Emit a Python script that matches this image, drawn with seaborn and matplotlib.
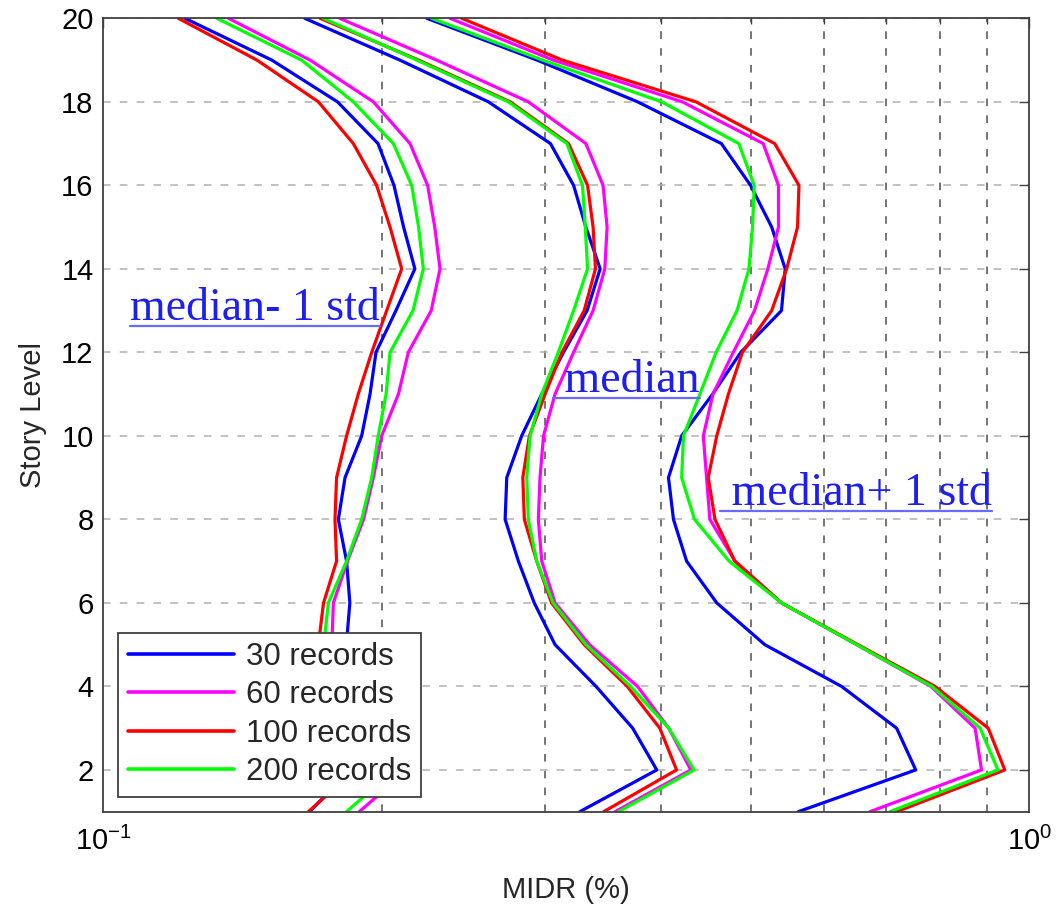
import matplotlib
matplotlib.use("Agg")
import matplotlib.pyplot as plt
import numpy as np
import pandas as pd
import seaborn as sns
from matplotlib.lines import Line2D
from matplotlib.transforms import IdentityTransform
from matplotlib.ticker import FixedLocator, NullFormatter

# ── Data: MIDR (%) per story level 1..20 ──────────────────────────────
stories = list(range(1, 21))
record_sets = ["30 records", "60 records", "100 records", "200 records"]
colors = ["#0000ff", "#ff00ff", "#ff0000", "#00ff00"]
groups = ["median- 1 std", "median", "median+ 1 std"]

minus_30 = [0.167, 0.185, 0.184, 0.183, 0.183, 0.1846, 0.1831, 0.1794, 0.1824, 0.1901,
            0.1941, 0.197, 0.207, 0.217, 0.211, 0.206, 0.198, 0.179, 0.152, 0.1225]
minus_60 = [0.189, 0.213, 0.198, 0.186, 0.1765, 0.1772, 0.1835, 0.191, 0.1957, 0.1998,
            0.2083, 0.2135, 0.226, 0.231, 0.228, 0.224, 0.2144, 0.1957, 0.1672, 0.1365]
minus_100 = [0.1665, 0.187, 0.181, 0.175, 0.1707, 0.1729, 0.1786, 0.1779, 0.1786, 0.1831,
             0.1885, 0.1949, 0.2023, 0.210, 0.204, 0.1973, 0.1862, 0.1707, 0.1465, 0.1205]
minus_200 = [0.1831, 0.206, 0.193, 0.182, 0.173, 0.175, 0.1831, 0.1901, 0.1949, 0.1981,
             0.2020, 0.204, 0.216, 0.2216, 0.219, 0.2153, 0.2057, 0.1862, 0.1637, 0.1326]

median_30 = [0.327, 0.396, 0.373, 0.3405, 0.3075, 0.292, 0.2807, 0.2716, 0.2727, 0.2830,
             0.2975, 0.314, 0.333, 0.344, 0.332, 0.322, 0.304, 0.2605, 0.209, 0.165]
median_60 = [0.357, 0.431, 0.408, 0.3775, 0.335, 0.3075, 0.2975, 0.295, 0.2962, 0.2988,
             0.3075, 0.322, 0.338, 0.348, 0.350, 0.3465, 0.332, 0.2877, 0.229, 0.180]
median_100 = [0.347, 0.416, 0.399, 0.368, 0.3306, 0.3048, 0.2938, 0.2849, 0.2838, 0.2885,
              0.300, 0.3128, 0.3306, 0.340, 0.338, 0.3334, 0.318, 0.275, 0.219, 0.1714]
median_200 = [0.360, 0.4346, 0.408, 0.371, 0.332, 0.306, 0.2938, 0.2877, 0.2866, 0.289,
              0.2975, 0.310, 0.322, 0.3334, 0.3315, 0.3292, 0.3167, 0.2737, 0.218, 0.1728]

plus_30 = [0.563, 0.754, 0.719, 0.627, 0.518, 0.4597, 0.4265, 0.4128, 0.4077, 0.4213,
           0.455, 0.488, 0.540, 0.545, 0.527, 0.500, 0.465, 0.3775, 0.294, 0.2235]
plus_60 = [0.673, 0.888, 0.874, 0.783, 0.651, 0.540, 0.4809, 0.4519, 0.4482, 0.4446,
           0.4554, 0.479, 0.505, 0.522, 0.536, 0.536, 0.516, 0.422, 0.306, 0.2368]
plus_100 = [0.719, 0.941, 0.903, 0.791, 0.653, 0.540, 0.4809, 0.4577, 0.4501, 0.4597,
            0.4732, 0.490, 0.527, 0.547, 0.562, 0.564, 0.531, 0.4365, 0.313, 0.2438]
plus_200 = [0.707, 0.925, 0.885, 0.785, 0.651, 0.540, 0.474, 0.4350, 0.4213, 0.4232,
            0.4408, 0.459, 0.4835, 0.498, 0.5025, 0.5046, 0.4856, 0.4008, 0.298, 0.2262]

series = {
    "median- 1 std": [minus_30, minus_60, minus_100, minus_200],
    "median": [median_30, median_60, median_100, median_200],
    "median+ 1 std": [plus_30, plus_60, plus_100, plus_200],
}

# annotation positions (data coords, x = MIDR, y = story)
label_pos = {"median- 1 std": (0.1069, 12.78), " median": (0.3059, 11.06),
             " median+ 1 std": (0.4634, 8.345)}

rows = []
for rec_i, rec in enumerate(record_sets):
    for g in groups:
        for s, v in zip(stories, series[g][rec_i]):
            rows.append({"records": rec, "group": g, "story": s, "midr": v})
df = pd.DataFrame(rows)

sns.set_style("white")
plt.rcParams["font.family"] = ["Liberation Sans", "DejaVu Sans"]
plt.rcParams["mathtext.default"] = "regular"

fig = plt.figure(figsize=(10.61, 9.06), dpi=100)
ax = fig.add_axes([0.0974, 0.1041, 0.8727, 0.8757])

sns.lineplot(data=df, x="midr", y="story", hue="records", units="group",
             estimator=None, sort=False, palette=dict(zip(record_sets, colors)),
             hue_order=record_sets, linewidth=2.3, ax=ax)

ax.set_xscale("log")
ax.set_xlim(0.1, 1.0)
ax.set_ylim(1, 20)
ax.xaxis.set_major_locator(FixedLocator([0.1, 1.0]))
ax.xaxis.set_minor_locator(FixedLocator([0.2, 0.3, 0.4, 0.5, 0.6, 0.7, 0.8, 0.9]))
ax.xaxis.set_minor_formatter(NullFormatter())
ax.set_xticklabels([r"$10^{-1}$", r"$10^{0}$"])
ax.set_yticks(range(2, 21, 2))

ax.grid(False)
ax.grid(which="minor", axis="x", linestyle=(0, (5, 6)), color="#505050", linewidth=1.1)
ax.grid(which="major", axis="y", linestyle=(0, (5, 6)), color="#b0b0b0", linewidth=1.1)

ax.tick_params(which="both", direction="in", top=True, right=True, colors="#404040",
               labelcolor="black", labelsize=21)
ax.tick_params(which="major", length=7, width=1)
ax.tick_params(which="minor", length=4, width=1)
ax.tick_params(axis="x", which="major", pad=11)
ax.tick_params(axis="y", which="major", pad=7)
for sp in ax.spines.values():
    sp.set_color("#404040")
    sp.set_linewidth(1.3)

ax.set_xlabel("MIDR (%)", fontsize=21, labelpad=14)
ax.set_ylabel("Story Level", fontsize=21, labelpad=10)

handles = [Line2D([], [], color=c, linewidth=2.6) for c in colors]
leg = ax.legend(handles, record_sets, loc="lower left", bbox_to_anchor=(0.016, 0.019),
                borderaxespad=0, fontsize=22.5, handlelength=3.4, handletextpad=0.4,
                labelspacing=0.27, borderpad=0.3, fancybox=False, framealpha=1,
                edgecolor="#404040")
leg.get_frame().set_linewidth(1.3)

texts = []
for label, (lx, ly) in label_pos.items():
    t = ax.text(lx, ly, label, color="#1e1ef0", fontsize=33, ha="left", va="baseline",
                family=["Liberation Serif", "DejaVu Serif"])
    texts.append(t)

fig.canvas.draw()
for t in texts:
    bb = t.get_window_extent()
    x0, y0 = t.get_transform().transform(t.get_position())
    fig.add_artist(Line2D([bb.x0, bb.x1], [y0 - 6, y0 - 6], color="#6a6aff",
                          linewidth=1.6, transform=IdentityTransform()))

fig.savefig("out.png", dpi=100)
